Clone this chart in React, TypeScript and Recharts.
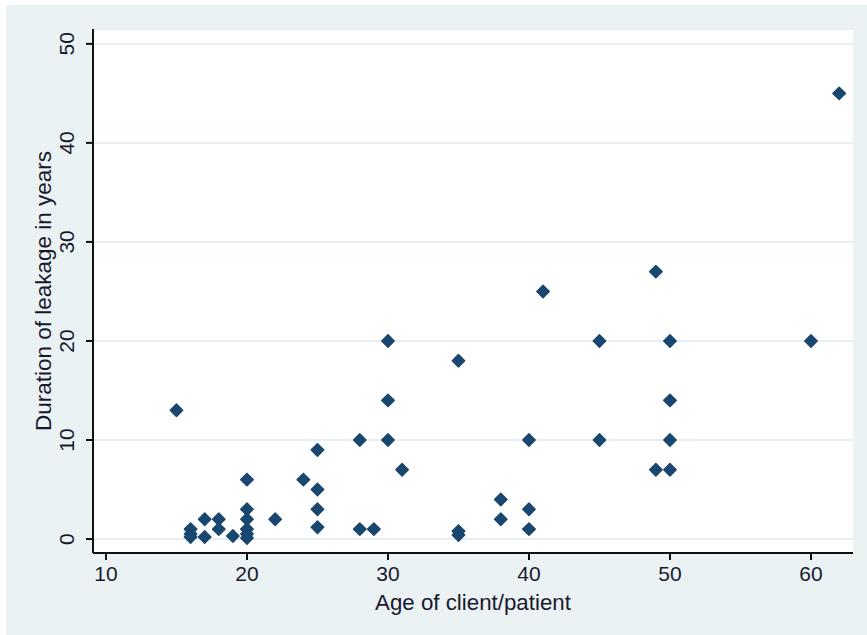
import React from 'react';
import { ScatterChart, Scatter, XAxis, YAxis, CartesianGrid } from 'recharts';

const ages = [15, 16, 16, 16, 17, 17, 18, 18, 19, 20, 20, 20, 20, 20, 20, 22, 24, 25, 25, 25, 25, 28, 28, 29, 30, 30, 30, 31, 35, 35, 35, 38, 38, 40, 40, 40, 41, 45, 45, 49, 49, 50, 50, 50, 50, 60, 62];
const durations = [13, 1, 0.5, 0.2, 2, 0.2, 2, 1, 0.3, 6, 3, 2, 1, 0.5, 0.1, 2, 6, 9, 5, 3, 1.2, 10, 1, 1, 20, 14, 10, 7, 18, 0.8, 0.4, 4, 2, 10, 3, 1, 25, 20, 10, 27, 7, 20, 14, 10, 7, 20, 45];
const xTicks = [10, 20, 30, 40, 50, 60];
const yTicks = [0, 10, 20, 30, 40, 50];

const data = ages.map((a, i) => ({ age: a, dur: durations[i] }));

const FONT = '"Liberation Sans", Arial, sans-serif';
const TEXT = '#1a1a2e';

const Diamond = (props: any) => {
  const { cx, cy } = props;
  const r = 6.2;
  return (
    <path
      d={`M${cx},${cy - r}L${cx + r},${cy}L${cx},${cy + r}L${cx - r},${cy}Z`}
      fill="#1A476F"
      stroke="#1A476F"
      strokeWidth={1.5}
      strokeLinejoin="round"
    />
  );
};

const YTick = (props: any) => {
  const { x, y, payload } = props;
  return (
    <text
      x={0}
      y={0}
      transform={`translate(${x - 18},${y}) rotate(-90)`}
      textAnchor="middle"
      dominantBaseline="central"
      fontSize={21}
      fontFamily={FONT}
      fill={TEXT}
    >
      {payload.value}
    </text>
  );
};

const XTick = (props: any) => {
  const { x, y, payload } = props;
  return (
    <text x={x} y={y + 19} textAnchor="middle" fontSize={21} fontFamily={FONT} fill={TEXT}>
      {payload.value}
    </text>
  );
};

const YLabel = (props: any) => {
  const vb = props.viewBox;
  const cy = vb.y + vb.height / 2;
  return (
    <text
      x={0}
      y={0}
      transform={`translate(37,${cy}) rotate(-90)`}
      textAnchor="middle"
      dominantBaseline="central"
      fontSize={22.5}
      fontFamily={FONT}
      fill={TEXT}
    >
      Duration of leakage in years
    </text>
  );
};

const XLabel = (props: any) => {
  const vb = props.viewBox;
  const cx = vb.x + vb.width / 2;
  return (
    <text x={cx} y={605} textAnchor="middle" fontSize={22.3} fontFamily={FONT} fill={TEXT}>
      Age of client/patient
    </text>
  );
};

export default function App() {
  return (
    <div style={{ position: 'absolute', left: 0, top: 0, width: 867, height: 635, background: '#ffffff' }}>
      <div style={{ position: 'absolute', left: 6, top: 5, width: 861, height: 630, background: '#EAF2F3' }}>
        <ScatterChart width={861} height={630} margin={{ top: 24, right: 14, bottom: 22, left: 27 }}>
          <CartesianGrid fill="#ffffff" vertical={false} stroke="#E6EEF1" strokeWidth={2} />
          <XAxis
            type="number"
            dataKey="age"
            domain={[9.08, 62.98]}
            ticks={xTicks}
            allowDataOverflow
            height={60}
            tickSize={7}
            tick={<XTick />}
            axisLine={{ stroke: '#111', strokeWidth: 2 }}
            tickLine={{ stroke: '#111', strokeWidth: 2 }}
            label={<XLabel />}
          />
          <YAxis
            type="number"
            dataKey="dur"
            domain={[-1.41, 51.5]}
            ticks={yTicks}
            allowDataOverflow
            width={60}
            tickSize={7}
            tick={<YTick />}
            axisLine={{ stroke: '#111', strokeWidth: 2 }}
            tickLine={{ stroke: '#111', strokeWidth: 2 }}
            label={<YLabel />}
          />
          <Scatter data={data} shape={<Diamond />} isAnimationActive={false} />
        </ScatterChart>
      </div>
    </div>
  );
}
